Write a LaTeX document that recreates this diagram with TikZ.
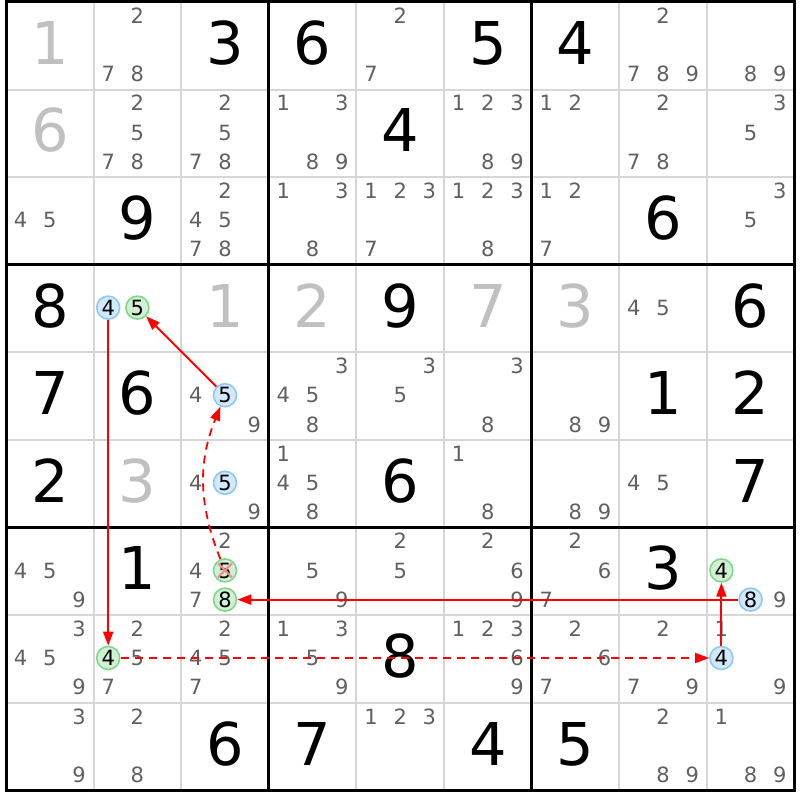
\documentclass[tikz,border=0pt]{standalone}
\usepackage{fontspec}
\setmainfont{DejaVu Sans}
\usetikzlibrary{arrows.meta}
\definecolor{candgray}{HTML}{606060}
\definecolor{solvedgray}{HTML}{C0C0C0}
\definecolor{thingrid}{HTML}{D6D6D6}
\definecolor{bluefill}{HTML}{D2E8FC}
\definecolor{bluebd}{HTML}{90C8F4}
\definecolor{greenfill}{HTML}{D2F0D4}
\definecolor{greenbd}{HTML}{7ED88C}
\definecolor{crossred}{HTML}{F28A8A}
\definecolor{linkred}{HTML}{FF0000}
\tikzset{
  cand/.style={text=candgray, font=\fontsize{21}{21}\selectfont, inner sep=0pt, text height=15.3pt, text depth=0pt},
  bigd/.style={text=black, font=\fontsize{59}{59}\selectfont, inner sep=0pt, text height=43pt, text depth=0pt},
  solvedd/.style={bigd, text=solvedgray},
  hlbase/.style={circle, line width=1.6pt, minimum size=23pt, inner sep=0pt, text=black, font=\fontsize{21}{21}\selectfont, text height=15.3pt, text depth=0pt},
  bluec/.style={hlbase, draw=bluebd, fill=bluefill},
  greenc/.style={hlbase, draw=greenbd, fill=greenfill},
  thinline/.style={thingrid, line width=2pt},
  thickline/.style={black, line width=3pt, line cap=rect},
  link/.style={color=linkred, line width=2pt, -{Triangle[length=14pt,width=10pt]}},
  weaklink/.style={color=linkred, line width=1.8pt, dash pattern=on 8pt off 6pt, -{Triangle[length=14pt,width=10pt]}},
  crossst/.style={color=crossred, line width=2pt}
}
\newcommand\cands[3]{%
  \foreach \d in {#3}{%
    \node[cand] (c#1#2\d) at ({6+87.6*#2+14.6+29.2*mod(\d-1,3)},{1+87.6*#1+14.6+29.2*floor((\d-1)/3)}) {\d};
  }}
\newcommand\given[3]{\node[bigd] (g#1#2) at ({6+87.6*#2+43.8},{2+87.6*#1+43.8-3}) {#3};}
\newcommand\solved[3]{\node[solvedd] (g#1#2) at ({6+87.6*#2+43.8},{2+87.6*#1+43.8-3}) {#3};}
\newcommand\hl[5]{\node[#5] (#1) at ({6+87.6*#3+14.6+29.2*mod(#4-1,3)},{1+87.6*#2+14.6+29.2*floor((#4-1)/3)}) {#4};}
\begin{document}
\begin{tikzpicture}[x=1pt,y=-1pt]
\fill[white] (0,0) rectangle (800,800);
\useasboundingbox (0,0) rectangle (800,800);
% grid
\foreach \i in {1,2,4,5,7,8}{
  \draw[thinline] ({6+87.6*\i},2) -- ({6+87.6*\i},790.4);
  \draw[thinline] (6,{2+87.6*\i}) -- (794.4,{2+87.6*\i});
}
\foreach \i in {0,3,6,9}{
  \draw[thickline] ({6+87.6*\i},2) -- ({6+87.6*\i},790.4);
  \draw[thickline] (6,{2+87.6*\i}) -- (794.4,{2+87.6*\i});
}
% row 0
\solved{0}{0}{1} \cands{0}{1}{2,7,8} \given{0}{2}{3} \given{0}{3}{6} \cands{0}{4}{2,7}
\given{0}{5}{5} \given{0}{6}{4} \cands{0}{7}{2,7,8,9} \cands{0}{8}{8,9}
% row 1
\solved{1}{0}{6} \cands{1}{1}{2,5,7,8} \cands{1}{2}{2,5,7,8} \cands{1}{3}{1,3,8,9} \given{1}{4}{4}
\cands{1}{5}{1,2,3,8,9} \cands{1}{6}{1,2} \cands{1}{7}{2,7,8} \cands{1}{8}{3,5}
% row 2
\cands{2}{0}{4,5} \given{2}{1}{9} \cands{2}{2}{2,4,5,7,8} \cands{2}{3}{1,3,8} \cands{2}{4}{1,2,3,7}
\cands{2}{5}{1,2,3,8} \cands{2}{6}{1,2,7} \given{2}{7}{6} \cands{2}{8}{3,5}
% row 3
\given{3}{0}{8} \hl{A}{3}{1}{4}{bluec} \hl{B}{3}{1}{5}{greenc} \solved{3}{2}{1} \solved{3}{3}{2}
\given{3}{4}{9} \solved{3}{5}{7} \solved{3}{6}{3} \cands{3}{7}{4,5} \given{3}{8}{6}
% row 4
\given{4}{0}{7} \given{4}{1}{6} \cands{4}{2}{4,9} \hl{C}{4}{2}{5}{bluec} \cands{4}{3}{3,4,5,8}
\cands{4}{4}{3,5} \cands{4}{5}{3,8} \cands{4}{6}{8,9} \given{4}{7}{1} \given{4}{8}{2}
% row 5
\given{5}{0}{2} \solved{5}{1}{3} \cands{5}{2}{4,9} \hl{D}{5}{2}{5}{bluec} \cands{5}{3}{1,4,5,8}
\given{5}{4}{6} \cands{5}{5}{1,8} \cands{5}{6}{8,9} \cands{5}{7}{4,5} \given{5}{8}{7}
% row 6
\cands{6}{0}{4,5,9} \given{6}{1}{1} \cands{6}{2}{2,4,7} \hl{E}{6}{2}{5}{greenc} \hl{F}{6}{2}{8}{greenc}
\cands{6}{3}{5,9} \cands{6}{4}{2,5} \cands{6}{5}{2,6,9} \cands{6}{6}{2,6,7} \given{6}{7}{3}
\cands{6}{8}{9} \hl{G}{6}{8}{4}{greenc} \hl{H}{6}{8}{8}{bluec}
% row 7
\cands{7}{0}{3,4,5,9} \cands{7}{1}{2,5,7} \hl{I}{7}{1}{4}{greenc} \cands{7}{2}{2,4,5,7} \cands{7}{3}{1,3,5,9}
\given{7}{4}{8} \cands{7}{5}{1,2,3,6,9} \cands{7}{6}{2,6,7} \cands{7}{7}{2,7,9} \cands{7}{8}{1,9}
\hl{J}{7}{8}{4}{bluec}
% row 8
\cands{8}{0}{3,9} \cands{8}{1}{2,8} \given{8}{2}{6} \given{8}{3}{7} \cands{8}{4}{1,2,3}
\given{8}{5}{4} \given{8}{6}{5} \cands{8}{7}{2,8,9} \cands{8}{8}{1,8,9}
% eliminated candidate
\draw[crossst] ([shift={(-7,-7)}]E.center) -- ([shift={(7,7)}]E.center);
\draw[crossst] ([shift={(-7,7)}]E.center) -- ([shift={(7,-7)}]E.center);
% chain: strong links
\draw[link] (A) -- (I);
\draw[link] (C) -- (B);
\draw[link] (H) -- (F);
\draw[link] (J) -- (G);
% chain: weak links
\draw[weaklink] (E) to[bend left=22] (C);
\draw[weaklink] (I) -- (J);
\end{tikzpicture}
\end{document}
